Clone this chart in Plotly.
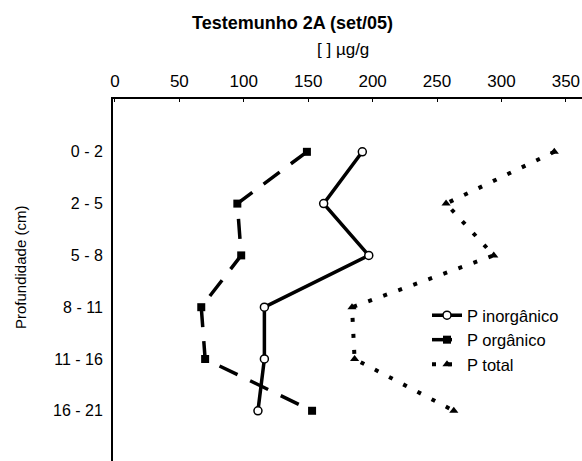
import plotly.graph_objects as go

# Depth intervals (cm) and phosphorus concentrations (µg/g)
profundidade = ["0 - 2", "2 - 5", "5 - 8", "8 - 11", "11 - 16", "16 - 21"]
p_inorganico = [192, 162, 197, 116, 116, 111]
p_organico = [149, 95, 98, 67, 70, 153]
p_total = [341, 257, 294, 184, 186, 263]

W, H = 582, 461
L, T = 113, 99
FONT = "Liberation Sans, Arial, sans-serif"

pos = list(range(len(profundidade)))

fig = go.Figure()
fig.add_trace(go.Scatter(
    x=p_inorganico, y=pos, name="P inorgânico", mode="lines+markers",
    line=dict(color="black", width=3.5),
    marker=dict(symbol="circle", size=8, color="white",
                line=dict(color="black", width=1.5)),
))
fig.add_trace(go.Scatter(
    x=p_organico, y=pos, name="P orgânico", mode="lines+markers",
    line=dict(color="black", width=3.5, dash="20px,14px"),
    marker=dict(symbol="square", size=8, color="black"),
))
fig.add_trace(go.Scatter(
    x=p_total, y=pos, name="P total", mode="lines+markers",
    line=dict(color="black", width=4, dash="4px,12px"),
    marker=dict(symbol="triangle-up", size=8, color="black"),
))

pw = W - L
ph = H - T

fig.update_layout(
    width=W, height=H,
    margin=dict(l=L, r=0, t=T, b=0),
    paper_bgcolor="white", plot_bgcolor="white",
    font=dict(family=FONT, size=16, color="black"),
    showlegend=True,
    legend=dict(
        x=(427 - L) / pw, y=(461 - 298) / ph, xanchor="left", yanchor="top",
        bgcolor="rgba(0,0,0,0)", font=dict(size=16.5),
        tracegroupgap=0, itemwidth=30,
    ),
    xaxis=dict(
        side="top", range=[-1.5, 362.5], tickvals=[0, 50, 100, 150, 200, 250, 300, 350],
        showline=True, linecolor="black", linewidth=2, mirror=False,
        ticks="inside", ticklen=3, tickcolor="black",
        showgrid=False, zeroline=False, tickfont=dict(size=17),
        ticklabelstandoff=3,
    ),
    yaxis=dict(
        range=[5.97, -1.02], tickvals=pos, ticktext=profundidade,
        showline=True, linecolor="black", linewidth=2,
        ticks="", showgrid=False, zeroline=False, tickfont=dict(size=16),
        ticklabelstandoff=5,
    ),
    annotations=[
        dict(text="<b>Testemunho 2A (set/05)</b>", xref="paper", yref="paper",
             x=(292 - L) / pw, y=(H - 23) / ph, showarrow=False,
             xanchor="center", yanchor="middle", font=dict(size=18)),
        dict(text="[ ] µg/g", xref="paper", yref="paper",
             x=(343 - L) / pw, y=(H - 50) / ph, showarrow=False,
             xanchor="center", yanchor="middle", font=dict(size=17)),
        dict(text="Profundidade (cm)", xref="paper", yref="paper",
             x=(20 - L) / pw, y=(H - 268) / ph, showarrow=False, textangle=-90,
             xanchor="center", yanchor="middle", font=dict(size=15)),
    ],
)

fig.write_html("out.html")
